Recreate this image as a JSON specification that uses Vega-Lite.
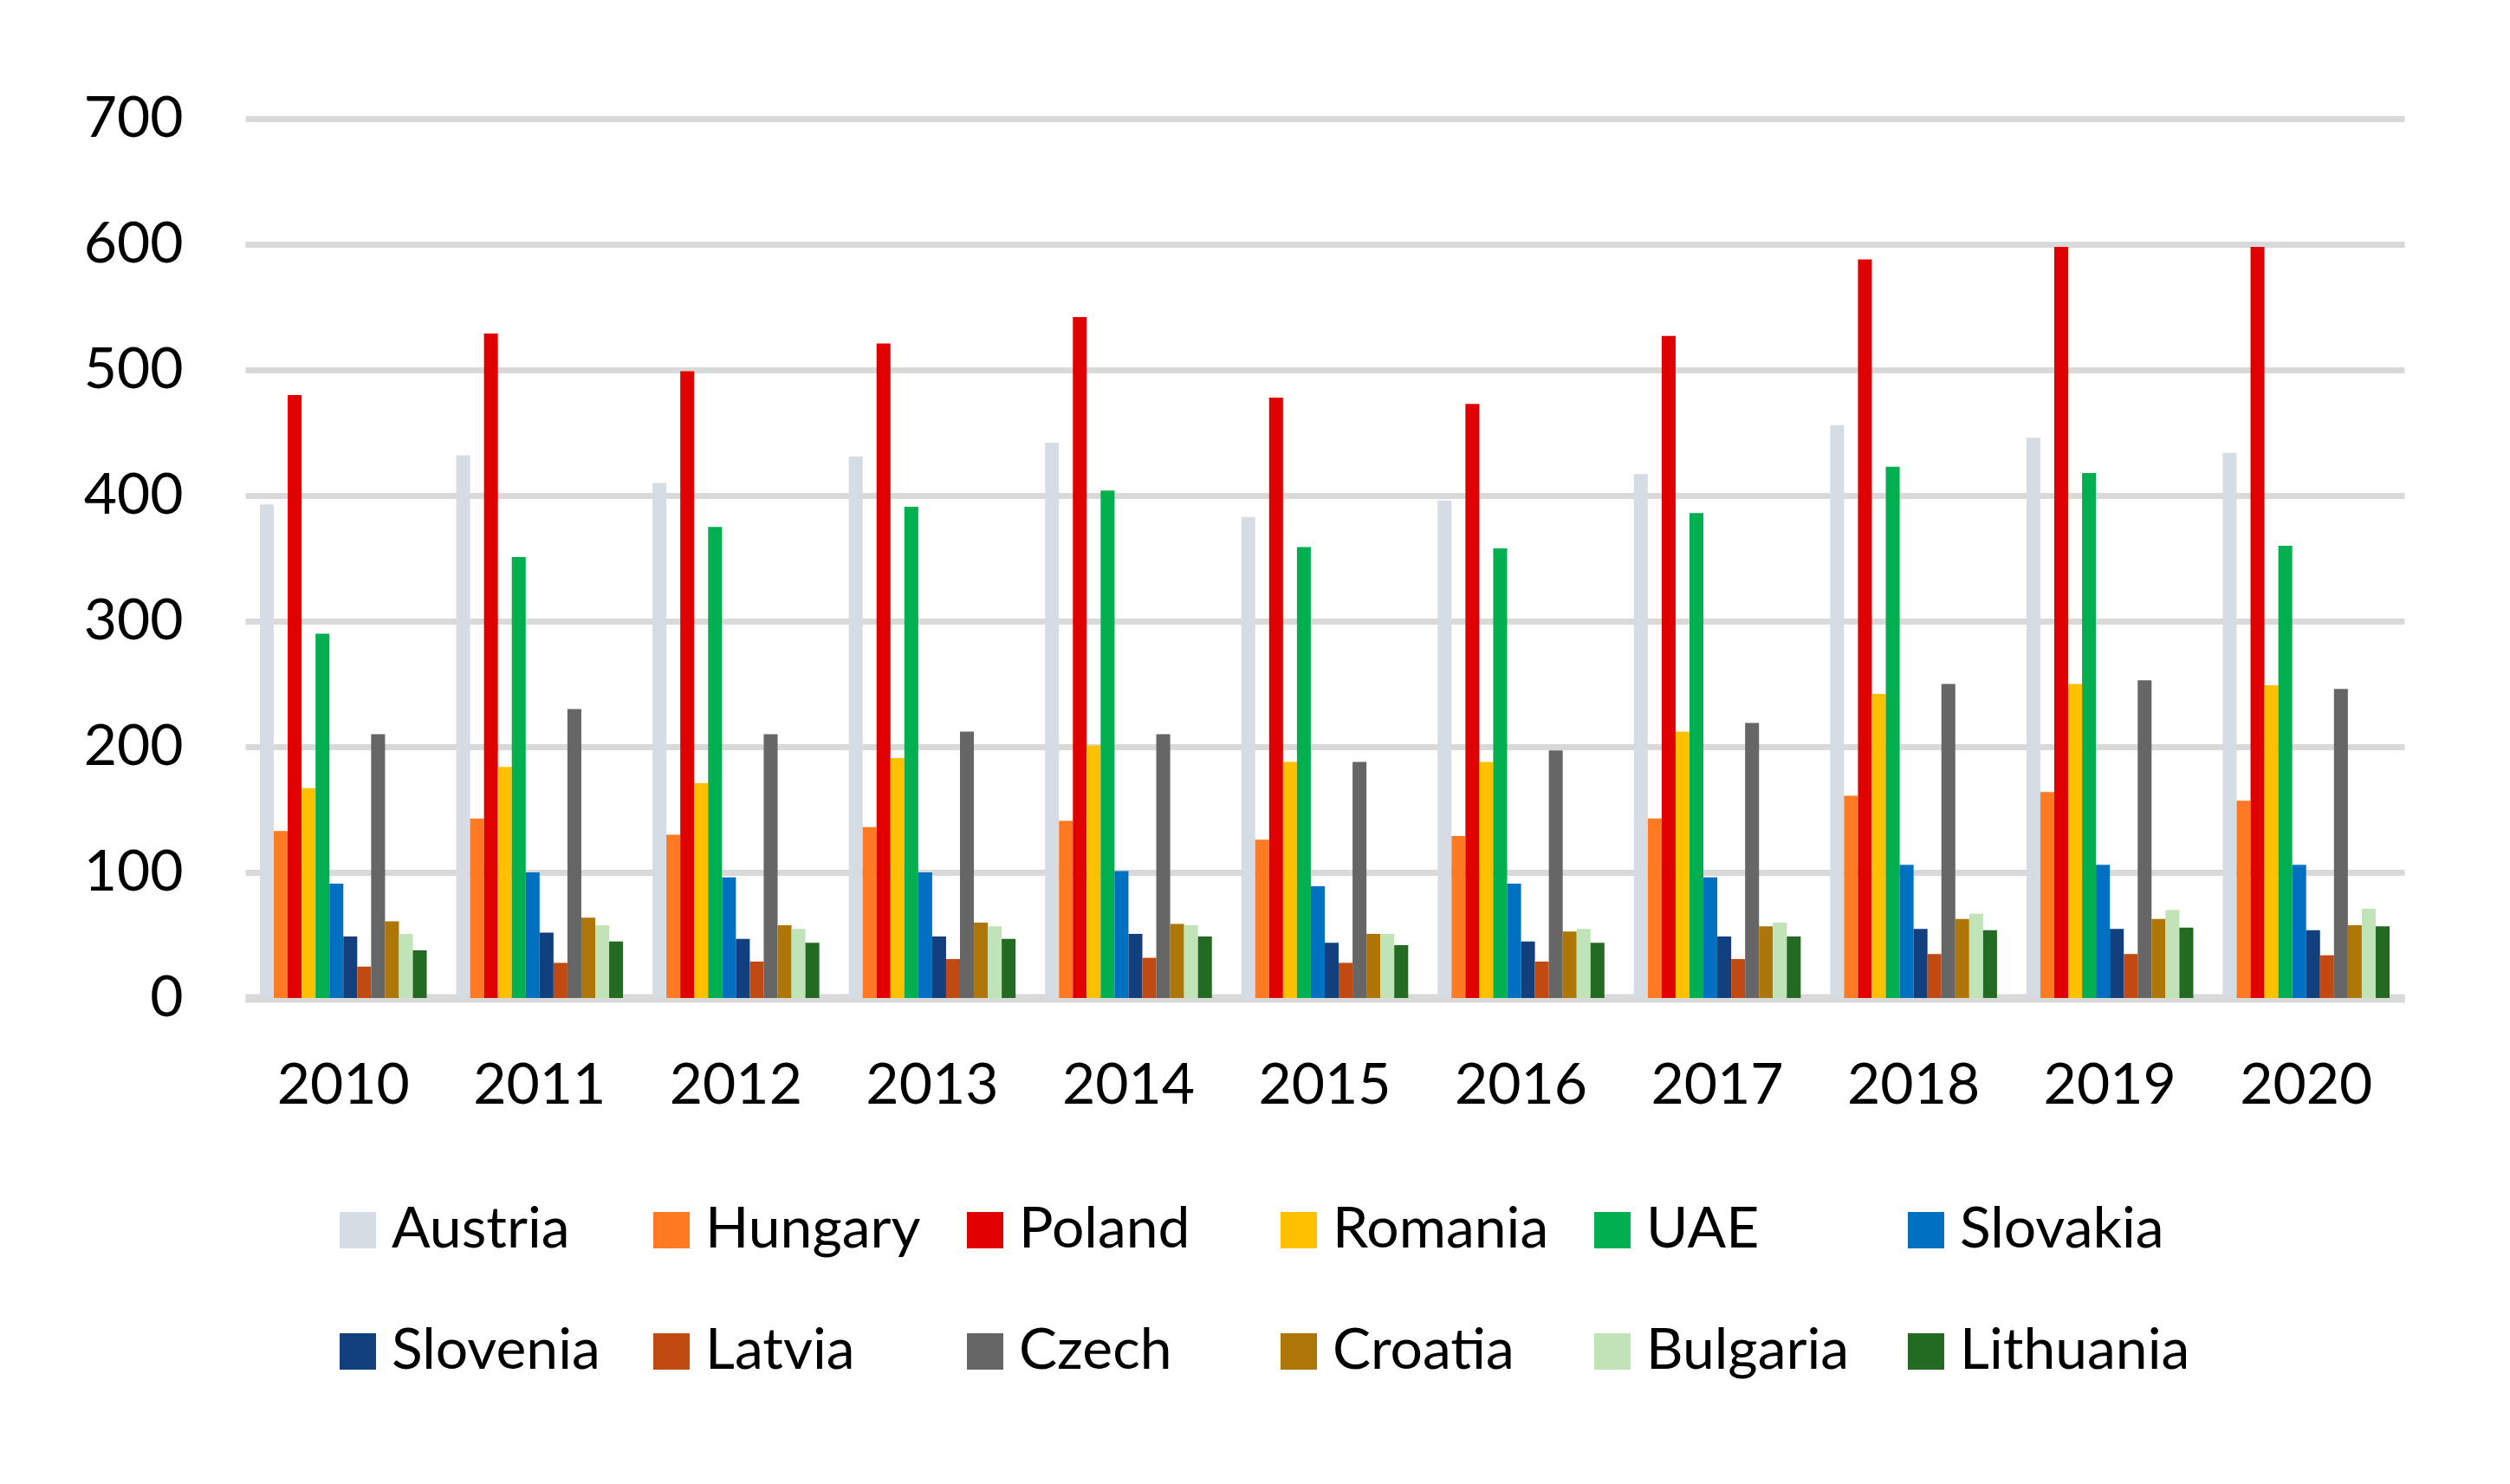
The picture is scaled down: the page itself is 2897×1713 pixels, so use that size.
{
"$schema":"https://vega.github.io/schema/vega-lite/v6.json",
"autosize":"none",
"width":2492,"height":1015,
"padding":{"left":283,"top":137,"right":122,"bottom":561},
"background":"white",
"config":{"view":{"stroke":null},"font":"Lato"},
"data":{"values":[
{"year":"2010","country":"Austria","value":393},{"year":"2010","country":"Hungary","value":133},{"year":"2010","country":"Poland","value":480},{"year":"2010","country":"Romania","value":167},{"year":"2010","country":"UAE","value":290},{"year":"2010","country":"Slovakia","value":91},{"year":"2010","country":"Slovenia","value":49},{"year":"2010","country":"Latvia","value":25},{"year":"2010","country":"Czech","value":210},{"year":"2010","country":"Croatia","value":61},{"year":"2010","country":"Bulgaria","value":51},{"year":"2010","country":"Lithuania","value":38},
{"year":"2011","country":"Austria","value":432},{"year":"2011","country":"Hungary","value":143},{"year":"2011","country":"Poland","value":529},{"year":"2011","country":"Romania","value":184},{"year":"2011","country":"UAE","value":351},{"year":"2011","country":"Slovakia","value":100},{"year":"2011","country":"Slovenia","value":52},{"year":"2011","country":"Latvia","value":28},{"year":"2011","country":"Czech","value":230},{"year":"2011","country":"Croatia","value":64},{"year":"2011","country":"Bulgaria","value":58},{"year":"2011","country":"Lithuania","value":45},
{"year":"2012","country":"Austria","value":410},{"year":"2012","country":"Hungary","value":130},{"year":"2012","country":"Poland","value":499},{"year":"2012","country":"Romania","value":171},{"year":"2012","country":"UAE","value":375},{"year":"2012","country":"Slovakia","value":96},{"year":"2012","country":"Slovenia","value":47},{"year":"2012","country":"Latvia","value":29},{"year":"2012","country":"Czech","value":210},{"year":"2012","country":"Croatia","value":58},{"year":"2012","country":"Bulgaria","value":55},{"year":"2012","country":"Lithuania","value":44},
{"year":"2013","country":"Austria","value":431},{"year":"2013","country":"Hungary","value":136},{"year":"2013","country":"Poland","value":521},{"year":"2013","country":"Romania","value":191},{"year":"2013","country":"UAE","value":391},{"year":"2013","country":"Slovakia","value":100},{"year":"2013","country":"Slovenia","value":49},{"year":"2013","country":"Latvia","value":31},{"year":"2013","country":"Czech","value":212},{"year":"2013","country":"Croatia","value":60},{"year":"2013","country":"Bulgaria","value":57},{"year":"2013","country":"Lithuania","value":47},
{"year":"2014","country":"Austria","value":442},{"year":"2014","country":"Hungary","value":141},{"year":"2014","country":"Poland","value":542},{"year":"2014","country":"Romania","value":201},{"year":"2014","country":"UAE","value":404},{"year":"2014","country":"Slovakia","value":101},{"year":"2014","country":"Slovenia","value":51},{"year":"2014","country":"Latvia","value":32},{"year":"2014","country":"Czech","value":210},{"year":"2014","country":"Croatia","value":59},{"year":"2014","country":"Bulgaria","value":58},{"year":"2014","country":"Lithuania","value":49},
{"year":"2015","country":"Austria","value":383},{"year":"2015","country":"Hungary","value":126},{"year":"2015","country":"Poland","value":478},{"year":"2015","country":"Romania","value":188},{"year":"2015","country":"UAE","value":359},{"year":"2015","country":"Slovakia","value":89},{"year":"2015","country":"Slovenia","value":44},{"year":"2015","country":"Latvia","value":28},{"year":"2015","country":"Czech","value":188},{"year":"2015","country":"Croatia","value":51},{"year":"2015","country":"Bulgaria","value":51},{"year":"2015","country":"Lithuania","value":42},
{"year":"2016","country":"Austria","value":396},{"year":"2016","country":"Hungary","value":129},{"year":"2016","country":"Poland","value":473},{"year":"2016","country":"Romania","value":188},{"year":"2016","country":"UAE","value":358},{"year":"2016","country":"Slovakia","value":91},{"year":"2016","country":"Slovenia","value":45},{"year":"2016","country":"Latvia","value":29},{"year":"2016","country":"Czech","value":197},{"year":"2016","country":"Croatia","value":53},{"year":"2016","country":"Bulgaria","value":55},{"year":"2016","country":"Lithuania","value":44},
{"year":"2017","country":"Austria","value":417},{"year":"2017","country":"Hungary","value":143},{"year":"2017","country":"Poland","value":527},{"year":"2017","country":"Romania","value":212},{"year":"2017","country":"UAE","value":386},{"year":"2017","country":"Slovakia","value":96},{"year":"2017","country":"Slovenia","value":49},{"year":"2017","country":"Latvia","value":31},{"year":"2017","country":"Czech","value":219},{"year":"2017","country":"Croatia","value":57},{"year":"2017","country":"Bulgaria","value":60},{"year":"2017","country":"Lithuania","value":49},
{"year":"2018","country":"Austria","value":456},{"year":"2018","country":"Hungary","value":161},{"year":"2018","country":"Poland","value":588},{"year":"2018","country":"Romania","value":242},{"year":"2018","country":"UAE","value":423},{"year":"2018","country":"Slovakia","value":106},{"year":"2018","country":"Slovenia","value":55},{"year":"2018","country":"Latvia","value":35},{"year":"2018","country":"Czech","value":250},{"year":"2018","country":"Croatia","value":63},{"year":"2018","country":"Bulgaria","value":67},{"year":"2018","country":"Lithuania","value":54},
{"year":"2019","country":"Austria","value":446},{"year":"2019","country":"Hungary","value":164},{"year":"2019","country":"Poland","value":598},{"year":"2019","country":"Romania","value":250},{"year":"2019","country":"UAE","value":418},{"year":"2019","country":"Slovakia","value":106},{"year":"2019","country":"Slovenia","value":55},{"year":"2019","country":"Latvia","value":35},{"year":"2019","country":"Czech","value":253},{"year":"2019","country":"Croatia","value":63},{"year":"2019","country":"Bulgaria","value":70},{"year":"2019","country":"Lithuania","value":56},
{"year":"2020","country":"Austria","value":434},{"year":"2020","country":"Hungary","value":157},{"year":"2020","country":"Poland","value":598},{"year":"2020","country":"Romania","value":249},{"year":"2020","country":"UAE","value":360},{"year":"2020","country":"Slovakia","value":106},{"year":"2020","country":"Slovenia","value":54},{"year":"2020","country":"Latvia","value":34},{"year":"2020","country":"Czech","value":246},{"year":"2020","country":"Croatia","value":58},{"year":"2020","country":"Bulgaria","value":71},{"year":"2020","country":"Lithuania","value":57}
]},
"mark":{"type":"bar"},
"encoding":{
"x":{"field":"year","type":"nominal","title":null,
"scale":{"paddingInner":0.15,"paddingOuter":0.075},
"axis":{"labelAngle":0,"labelFont":"Lato","labelFontSize":66,"labelColor":"#000000","labelPadding":69,"ticks":false,"domain":true,"domainColor":"#D9D9D9","domainWidth":10}},
"xOffset":{"field":"country","type":"nominal",
"sort":["Austria","Hungary","Poland","Romania","UAE","Slovakia","Slovenia","Latvia","Czech","Croatia","Bulgaria","Lithuania"],
"scale":{"paddingInner":0,"paddingOuter":0}},
"y":{"field":"value","type":"quantitative","title":null,
"scale":{"domain":[0,700],"nice":false},
"axis":{"values":[0,100,200,300,400,500,600,700],"labelFont":"Lato","labelFontSize":66,"labelColor":"#000000","labelPadding":72,"ticks":false,"domain":false,"grid":true,"gridColor":"#D9D9D9","gridWidth":7}},
"color":{"field":"country","type":"nominal",
"scale":{"domain":["Austria","Hungary","Poland","Romania","UAE","Slovakia","Slovenia","Latvia","Czech","Croatia","Bulgaria","Lithuania"],
"range":["#D6DCE4","#FF7A22","#E00000","#FFC000","#00B050","#0070C0","#123F7E","#C04A12","#666666","#AE7606","#C0E3B7","#236A22"]},
"legend":{"title":null,"orient":"none","legendX":97,"legendY":1250,"direction":"horizontal","columns":6,"gridAlign":"all",
"symbolType":"square","symbolSize":1764,"symbolStrokeWidth":0,"symbolOpacity":1,
"labelFont":"Lato","labelFontSize":66,"labelColor":"#000000","labelOffset":6,"labelLimit":1000,
"columnPadding":24,"rowPadding":74,"padding":0}}
}
}
